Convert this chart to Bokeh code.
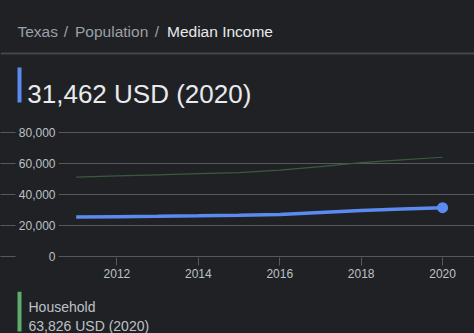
from bokeh.plotting import figure
from bokeh.layouts import column
from bokeh.models import (Range1d, LinearAxis, FixedTicker, NumeralTickFormatter,
                          Label, BoxAnnotation, ColumnDataSource, Grid)
from bokeh.embed import file_html
from bokeh.resources import INLINE

# ---- data ----
years = [2011, 2012, 2013, 2014, 2015, 2016, 2017, 2018, 2019, 2020]
per_capita = [25500, 25700, 25900, 26200, 26600, 27100, 28400, 29700, 30600, 31462]
household = [51000, 51800, 52500, 53300, 54000, 55500, 57800, 60300, 62100, 63826]
x_ticks = [2012, 2014, 2016, 2018, 2020]
y_ticks = [0, 20000, 40000, 60000, 80000]
breadcrumb = ["Texas", "Population", "Median Income"]
headline = "31,462 USD (2020)"
legend_name = "Household"
legend_value = "63,826 USD (2020)"

BG = "#202124"
GRID = "#55585c"
LABEL = "#bdc1c6"
FONT = "Liberation Sans"
W = 474
DARK = {"background-color": BG}


def blank_fig(h):
    f = figure(width=W, height=h, output_backend="svg", toolbar_location=None,
               x_range=Range1d(0, W), y_range=Range1d(0, h),
               min_border=0, x_axis_type=None, y_axis_type=None,
               background_fill_color=BG, border_fill_color=BG, frame_align=False,
               styles=DARK)
    f.outline_line_color = None
    f.grid.visible = False
    return f


S = dict(x_units="screen", y_units="screen")
B = dict(left_units="screen", right_units="screen", top_units="screen", bottom_units="screen")

# ---------- header ----------
HH = 115
hdr = blank_fig(HH)
crumb_style = dict(text_font=FONT, text_font_size="15.5px", text_baseline="alphabetic")
hdr.add_layout(Label(x=17, y=HH - 31, **S, text=breadcrumb[0], text_color="#9aa0a6", **crumb_style))
hdr.add_layout(Label(x=63.3, y=HH - 31, **S, text="/", text_color="#9aa0a6", **crumb_style))
hdr.add_layout(Label(x=74.5, y=HH - 31, **S, text=breadcrumb[1], text_color="#9aa0a6", **crumb_style))
hdr.add_layout(Label(x=154.3, y=HH - 31, **S, text="/", text_color="#9aa0a6", **crumb_style))
hdr.add_layout(Label(x=166.5, y=HH - 31, **S, text=breadcrumb[2], text_color="#e8eaed", **crumb_style))
hdr.add_layout(BoxAnnotation(left=0, right=W, top=HH - 52, bottom=HH - 54, **B,
                             fill_color="#45474b", fill_alpha=1, line_color=None))
hdr.add_layout(BoxAnnotation(left=17, right=21, top=HH - 67, bottom=HH - 102, **B,
                             fill_color="#5b8af0", fill_alpha=1, line_color=None))
hdr.add_layout(Label(x=26.8, y=HH - 93.5, **S,
                     text=headline, text_color="#e8eaed",
                     text_font=FONT, text_font_size="26px", text_baseline="alphabetic"))

# ---------- chart ----------
CH = 176
p = figure(width=W, height=CH, output_backend="svg", toolbar_location=None,
           x_range=Range1d(2010.566, 2020.784), y_range=Range1d(-520, 90600),
           min_border_left=57, min_border_right=0, min_border_top=0,
           min_border_bottom=34, x_axis_type=None, y_axis_type=None,
           background_fill_color=BG, border_fill_color=BG, frame_align=False,
           styles=DARK)
p.outline_line_color = None

xa = LinearAxis(ticker=FixedTicker(ticks=x_ticks))
xa.axis_line_color = None
xa.major_tick_line_color = GRID
xa.major_tick_out = 8
xa.major_tick_in = 0
xa.minor_tick_line_color = None
xa.major_label_standoff = 3
xa.major_label_text_color = LABEL
xa.major_label_text_font = FONT
xa.major_label_text_font_size = "12px"
p.add_layout(xa, "below")

ya = LinearAxis(ticker=FixedTicker(ticks=y_ticks), formatter=NumeralTickFormatter(format="0,0"))
ya.axis_line_color = None
ya.major_tick_line_color = None
ya.major_tick_out = 0
ya.major_tick_in = 0
ya.minor_tick_line_color = None
ya.major_label_standoff = 3
ya.major_label_text_color = LABEL
ya.major_label_text_font = FONT
ya.major_label_text_font_size = "12px"
p.add_layout(ya, "left")

ya2 = LinearAxis(ticker=FixedTicker(ticks=y_ticks),
                 major_label_overrides={t: "" for t in y_ticks})
ya2.axis_line_color = None
ya2.major_tick_line_color = GRID
ya2.major_tick_out = 15
ya2.major_tick_in = 0
ya2.minor_tick_line_color = None
ya2.major_label_standoff = 0
p.add_layout(ya2, "left")

p.add_layout(Grid(dimension=1, ticker=FixedTicker(ticks=y_ticks),
                  grid_line_color=GRID, grid_line_width=1))

src = ColumnDataSource(dict(year=years, pc=per_capita, hh=household))
p.line("year", "hh", source=src, line_color="#3a5a3f", line_width=1.2)
p.line("year", "pc", source=src, line_color="#5b8af0", line_width=3.5)
p.scatter(x=[years[-1]], y=[per_capita[-1]], size=11, fill_color="#5b8af0", line_color=None)

# ---------- footer ----------
FH = 333 - HH - CH
ftr = blank_fig(FH)
ftr.add_layout(BoxAnnotation(left=17, right=21, top=FH, bottom=FH - 40, **B,
                             fill_color="#5cae6a", fill_alpha=1, line_color=None))
ftr.add_layout(Label(x=28, y=FH - (306.5 - 291), **S,
                     text=legend_name, text_color=LABEL,
                     text_font=FONT, text_font_size="14px", text_baseline="alphabetic"))
ftr.add_layout(Label(x=28, y=FH - (325 - 291), **S,
                     text=legend_value, text_color=LABEL,
                     text_font=FONT, text_font_size="14px", text_baseline="alphabetic"))

layout = column(hdr, p, ftr, spacing=0, styles=DARK)
open("out.html", "w").write(file_html(layout, INLINE))
